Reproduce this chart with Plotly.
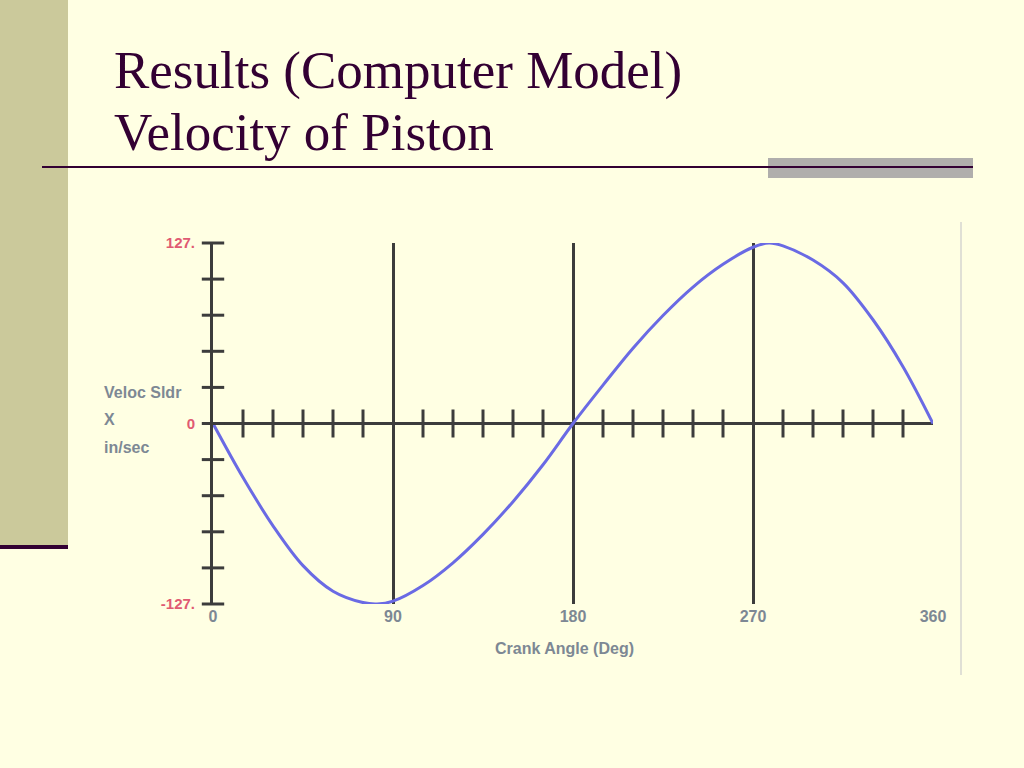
import plotly.graph_objects as go

# Data
crank_angle = [0, 15, 30, 45, 60, 75, 82, 90, 105, 120, 135, 150, 165, 180,
               195, 210, 225, 240, 255, 270, 278, 285, 300, 315, 330, 345, 360]
velocity = [0, -38, -72, -100, -118, -126, -127, -125, -114, -98, -78, -55, -29, 0,
            27, 53, 76, 96, 112, 124, 127, 125, 115, 99, 73, 40, 0]

x_ticks = [0, 90, 180, 270, 360]
x_tick_labels = ["0", "90", "180", "270", "360"]
x_minor = [15, 30, 45, 60, 75, 105, 120, 135, 150, 165, 195, 210, 225, 240, 255,
           285, 300, 315, 330, 345]
y_ticks = [-127, 0, 127]
y_tick_labels = ["-127.", "0", "127."]
y_minor = [-127, -101.6, -76.2, -50.8, -25.4, 0, 25.4, 50.8, 76.2, 101.6, 127]
y_title_lines = ["Veloc Sldr", "X", "in/sec"]

BG = "#FFFFE3"
PURPLE = "#330033"
AXIS = "#3c3c3c"
LABEL = "#7d8894"
RED = "#e05a72"
SANS = "Liberation Sans, Arial"

W, H = 1024, 768
def px(x): return x / W
def py(y): return 1 - y / H

fig = go.Figure()

fig.add_trace(go.Scatter(
    x=crank_angle, y=velocity, mode="lines",
    line=dict(color="#6a6ae4", width=3, shape="spline", smoothing=1.0),
    hoverinfo="skip", showlegend=False))

# tick marks crossing the zero line
fig.add_trace(go.Scatter(
    x=x_minor, y=[0] * len(x_minor), mode="markers",
    marker=dict(symbol="line-ns", size=20, line=dict(color=AXIS, width=3)),
    hoverinfo="skip", showlegend=False, cliponaxis=False))
# tick marks crossing the y axis
fig.add_trace(go.Scatter(
    x=[0] * len(y_minor), y=y_minor, mode="markers",
    marker=dict(symbol="line-ew", size=16, line=dict(color=AXIS, width=3)),
    hoverinfo="skip", showlegend=False, cliponaxis=False))

fig.update_layout(
    template="none",
    width=W, height=H, autosize=False,
    margin=dict(l=0, r=0, t=0, b=0, pad=0, autoexpand=False),
    paper_bgcolor=BG, plot_bgcolor=BG,
    showlegend=False,
    xaxis=dict(
        domain=[px(213), px(933)], range=[0, 360], automargin=False,
        tickvals=x_ticks, ticktext=x_tick_labels,
        showgrid=True, gridcolor=AXIS, gridwidth=3,
        zeroline=False, showline=False, ticks="",
        ticklabelstandoff=1,
        tickfont=dict(family=SANS, size=16, color=LABEL, weight="bold"),
        fixedrange=True,
    ),
    yaxis=dict(
        domain=[py(604), py(243)], range=[-127, 127], automargin=False,
        tickvals=y_ticks, ticktext=y_tick_labels,
        showgrid=False,
        zeroline=True, zerolinecolor=AXIS, zerolinewidth=3,
        showline=True, linecolor=AXIS, linewidth=3, ticks="",
        ticklabelstandoff=12,
        tickfont=dict(family=SANS, size=15, color=RED, weight="bold"),
        fixedrange=True,
    ),
)

shapes = [
    # left sidebar
    dict(type="rect", xref="paper", yref="paper", x0=0, x1=px(68), y0=py(545), y1=1,
         fillcolor="#CBC99B", line=dict(width=0), layer="below"),
    dict(type="line", xref="paper", yref="paper", x0=0, x1=px(68), y0=py(547), y1=py(547),
         line=dict(color=PURPLE, width=4)),
    # gray bar top-right
    dict(type="rect", xref="paper", yref="paper", x0=px(768), x1=px(973), y0=py(178), y1=py(158),
         fillcolor="#B0AEAC", line=dict(width=0)),
    # title rule
    dict(type="line", xref="paper", yref="paper", x0=px(42), x1=px(973), y0=py(167), y1=py(167),
         line=dict(color=PURPLE, width=2)),
    # thin right border line
    dict(type="line", xref="paper", yref="paper", x0=px(961), x1=px(961), y0=py(222), y1=py(675),
         line=dict(color="#d6d6d0", width=1.5)),
]
fig.update_layout(shapes=shapes)

annotations = [
    dict(text="Results (Computer Model)", xref="paper", yref="paper", x=px(112), y=py(70),
         xanchor="left", yanchor="middle", showarrow=False,
         font=dict(family="Liberation Serif, Times New Roman", size=53, color=PURPLE)),
    dict(text="Velocity of Piston", xref="paper", yref="paper", x=px(112), y=py(132),
         xanchor="left", yanchor="middle", showarrow=False,
         font=dict(family="Liberation Serif, Times New Roman", size=53, color=PURPLE)),
    dict(text="Crank Angle (Deg)", xref="paper", yref="paper", x=px(564), y=py(648),
         xanchor="center", yanchor="middle", showarrow=False,
         font=dict(family=SANS, size=16, color=LABEL, weight="bold")),
]
for i, line in enumerate(y_title_lines):
    annotations.append(dict(
        text=line, xref="paper", yref="paper", x=px(102), y=py(392 + 27.5 * i),
        xanchor="left", yanchor="middle", align="left", showarrow=False,
        font=dict(family=SANS, size=16, color=LABEL, weight="bold")))
fig.update_layout(annotations=annotations)

fig.write_html(
    "out.html",
    config={"responsive": False, "displayModeBar": False},
    post_script=(
        "document.body.style.margin='0';"
        "document.body.style.overflow='hidden';"
    ),
)
